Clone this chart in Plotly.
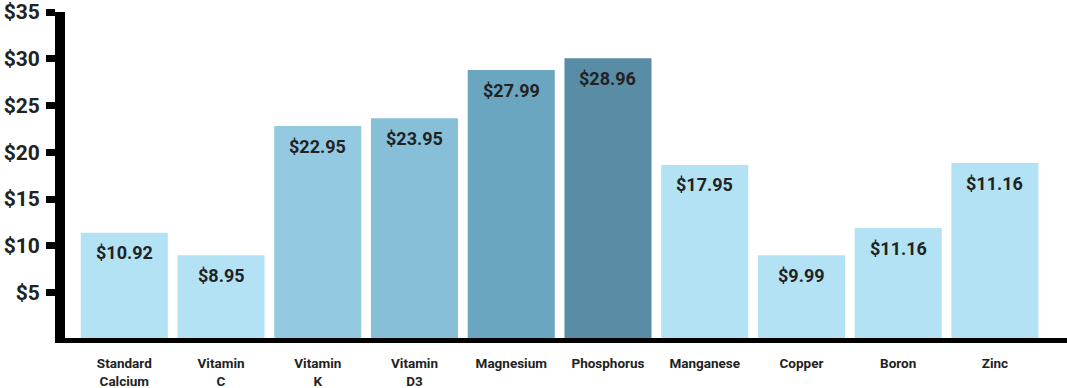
import plotly.graph_objects as go

categories = ["Standard<br>Calcium", "Vitamin<br>C", "Vitamin<br>K", "Vitamin<br>D3",
              "Magnesium", "Phosphorus", "Manganese", "Copper", "Boron", "Zinc"]
bar_heights = [11.4, 9.0, 22.8, 23.65, 28.8, 30.05, 18.65, 9.0, 11.9, 18.85]
price_labels = ["$10.92", "$8.95", "$22.95", "$23.95", "$27.99", "$28.96",
                "$17.95", "$9.99", "$11.16", "$11.16"]
bar_colors = ["#B3E2F5", "#B3E2F5", "#93CAE2", "#87BFD8", "#6AA6BF", "#588DA5",
              "#B3E2F5", "#B3E2F5", "#B3E2F5", "#B3E2F5"]
y_ticks = [5, 10, 15, 20, 25, 30, 35]

FONT = "Roboto, sans-serif"

fig = go.Figure()
fig.add_trace(go.Bar(
    x=list(range(len(categories))),
    y=bar_heights,
    marker=dict(color=bar_colors, line=dict(width=0)),
    hoverinfo="skip",
))

for i, (h, lab) in enumerate(zip(bar_heights, price_labels)):
    fig.add_annotation(x=i, y=h, text="<b>" + lab + "</b>", showarrow=False,
                       yanchor="middle", yshift=-20,
                       font=dict(family=FONT, size=18, color="#222222"))

fig.update_layout(
    width=1067, height=388,
    margin=dict(l=65, r=0, t=12, b=50),
    paper_bgcolor="white", plot_bgcolor="white",
    bargap=0.1,
    showlegend=False,
    font=dict(family=FONT, color="#222222"),
    xaxis=dict(
        range=[-0.613, 9.745],
        tickmode="array",
        tickvals=list(range(len(categories))),
        ticktext=["<b>" + c + "</b>" for c in categories],
        tickfont=dict(family=FONT, size=13.5, color="#222222"),
        showline=True, linecolor="black", linewidth=5,
        ticks="", showgrid=False, zeroline=False,
        ticklabelstandoff=9,
    ),
    yaxis=dict(
        range=[0.15, 35],
        tickmode="array",
        tickvals=y_ticks,
        ticktext=["<b>$" + str(v) + "</b>" for v in y_ticks],
        tickfont=dict(family=FONT, size=21, color="#222222"),
        showline=True, linecolor="black", linewidth=10,
        ticks="outside", ticklen=9, tickwidth=7, tickcolor="black",
        showgrid=False, zeroline=False,
        ticklabelstandoff=2,
    ),
)

fig.write_html("out.html", config={"displayModeBar": False},
               post_script="document.body.style.margin='0';")
